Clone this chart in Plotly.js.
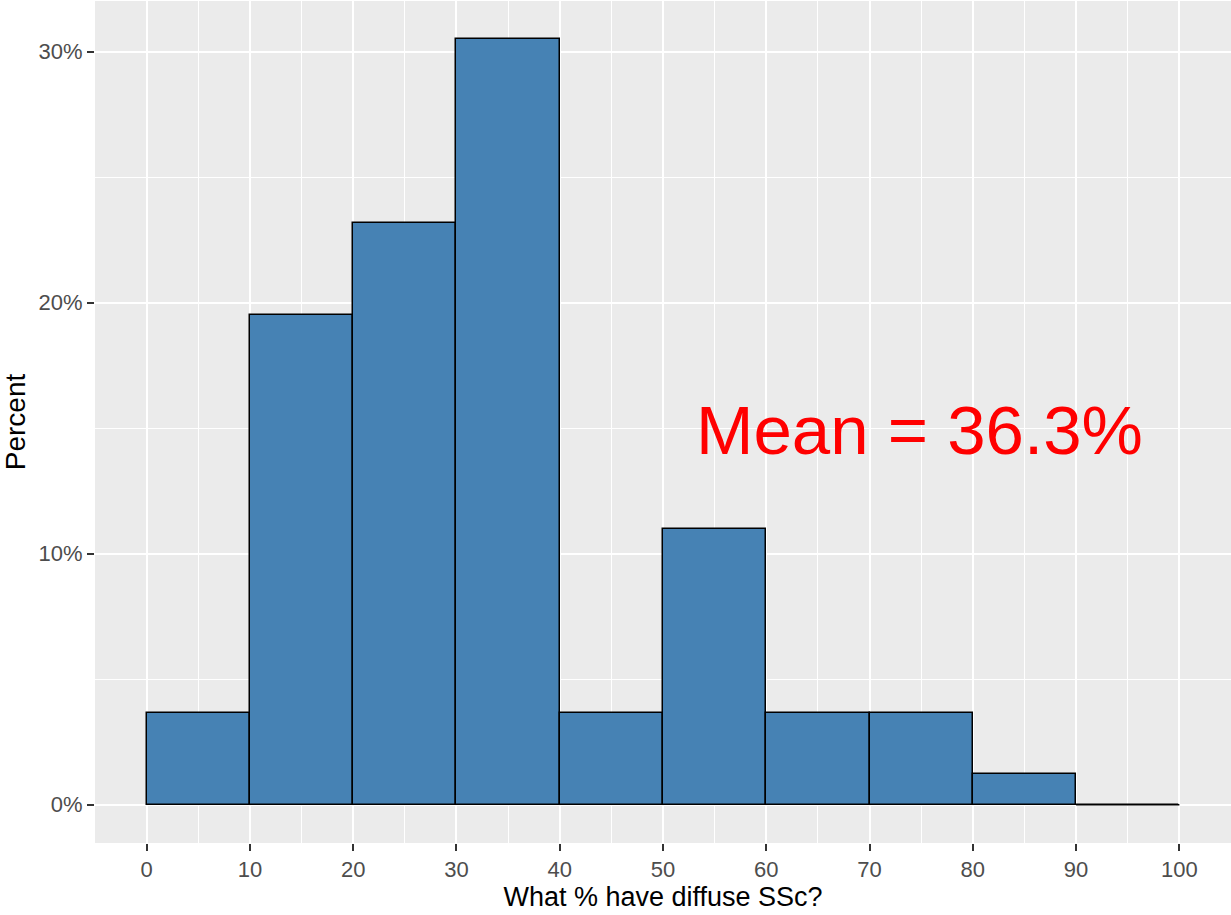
<!DOCTYPE html>
<html>
<head>
<meta charset="utf-8">
<script src="https://cdn.plot.ly/plotly-3.0.1.min.js"></script>
<style>
  html, body { margin: 0; padding: 0; background: #ffffff; }
  #chart { width: 1231px; height: 915px; }
</style>
</head>
<body>
<div id="chart"></div>
<script>
// Histogram bins (edges) and share of respondents per bin (%)
const binEdges = [0, 10, 20, 30, 40, 50, 60, 70, 80, 90, 100];
const percentValues = [3.66, 19.51, 23.17, 30.49, 3.66, 10.98, 3.66, 3.66, 1.22, 0];
const xTickValues = [0, 10, 20, 30, 40, 50, 60, 70, 80, 90, 100];
const yTickValues = [0, 10, 20, 30];
const yTickLabels = ['0%', '10%', '20%', '30%'];
const meanLabel = 'Mean = 36.3%';
const meanLabelPos = { x: 74.8, y: 14.9 };
const xTitle = 'What % have diffuse SSc?';
const yTitle = 'Percent';

const centers = percentValues.map((v, i) => (binEdges[i] + binEdges[i + 1]) / 2);
const widths = percentValues.map((v, i) => binEdges[i + 1] - binEdges[i]);

const FONT = 'Liberation Sans, Arial, sans-serif';

const traces = [{
  type: 'bar',
  x: centers,
  y: percentValues,
  width: widths,
  marker: { color: '#4682B4', line: { color: '#000000', width: 1.5 } },
  hoverinfo: 'x+y',
  showlegend: false
}];

// zero-height bins are drawn as a flat outline, as in the source histogram
percentValues.forEach((v, i) => {
  if (v === 0) {
    traces.push({
      type: 'scatter',
      mode: 'lines',
      x: [binEdges[i], binEdges[i + 1]],
      y: [v, v],
      line: { color: '#000000', width: 1.5 },
      hoverinfo: 'skip',
      showlegend: false
    });
  }
});

const axisCommon = {
  showline: false,
  zeroline: false,
  ticks: 'outside',
  ticklen: 7,
  tickwidth: 1.6,
  tickcolor: '#333333',
  tickfont: { family: FONT, size: 22, color: '#4D4D4D' },
  showgrid: true,
  gridcolor: '#FFFFFF',
  gridwidth: 2,
  fixedrange: true
};

const layout = {
  width: 1231,
  height: 915,
  margin: { l: 95, r: 0, t: 1, b: 72 },
  paper_bgcolor: '#FFFFFF',
  plot_bgcolor: '#EBEBEB',
  font: { family: FONT },
  bargap: 0,
  xaxis: Object.assign({}, axisCommon, {
    range: [-5, 105],
    tickmode: 'array',
    tickvals: xTickValues,
    ticktext: xTickValues.map(String),
    minor: { dtick: 5, tick0: 0, showgrid: true, gridcolor: '#FFFFFF', gridwidth: 1.4, ticks: '' },
    title: { text: xTitle, font: { family: FONT, size: 27, color: '#000000' }, standoff: 4 },
    automargin: false
  }),
  yaxis: Object.assign({}, axisCommon, {
    range: [-1.525, 32.02],
    tickmode: 'array',
    tickvals: yTickValues,
    ticktext: yTickLabels,
    minor: { dtick: 5, tick0: 0, showgrid: true, gridcolor: '#FFFFFF', gridwidth: 1.4, ticks: '' },
    title: { text: yTitle, font: { family: FONT, size: 28, color: '#000000' }, standoff: 6 },
    automargin: false
  }),
  annotations: [{
    x: meanLabelPos.x,
    y: meanLabelPos.y,
    xref: 'x',
    yref: 'y',
    text: meanLabel,
    showarrow: false,
    font: { family: FONT, size: 69, color: '#FF0000' },
    xanchor: 'center',
    yanchor: 'middle'
  }]
};

Plotly.newPlot('chart', traces, layout, { displayModeBar: false, responsive: false });
</script>
</body>
</html>
